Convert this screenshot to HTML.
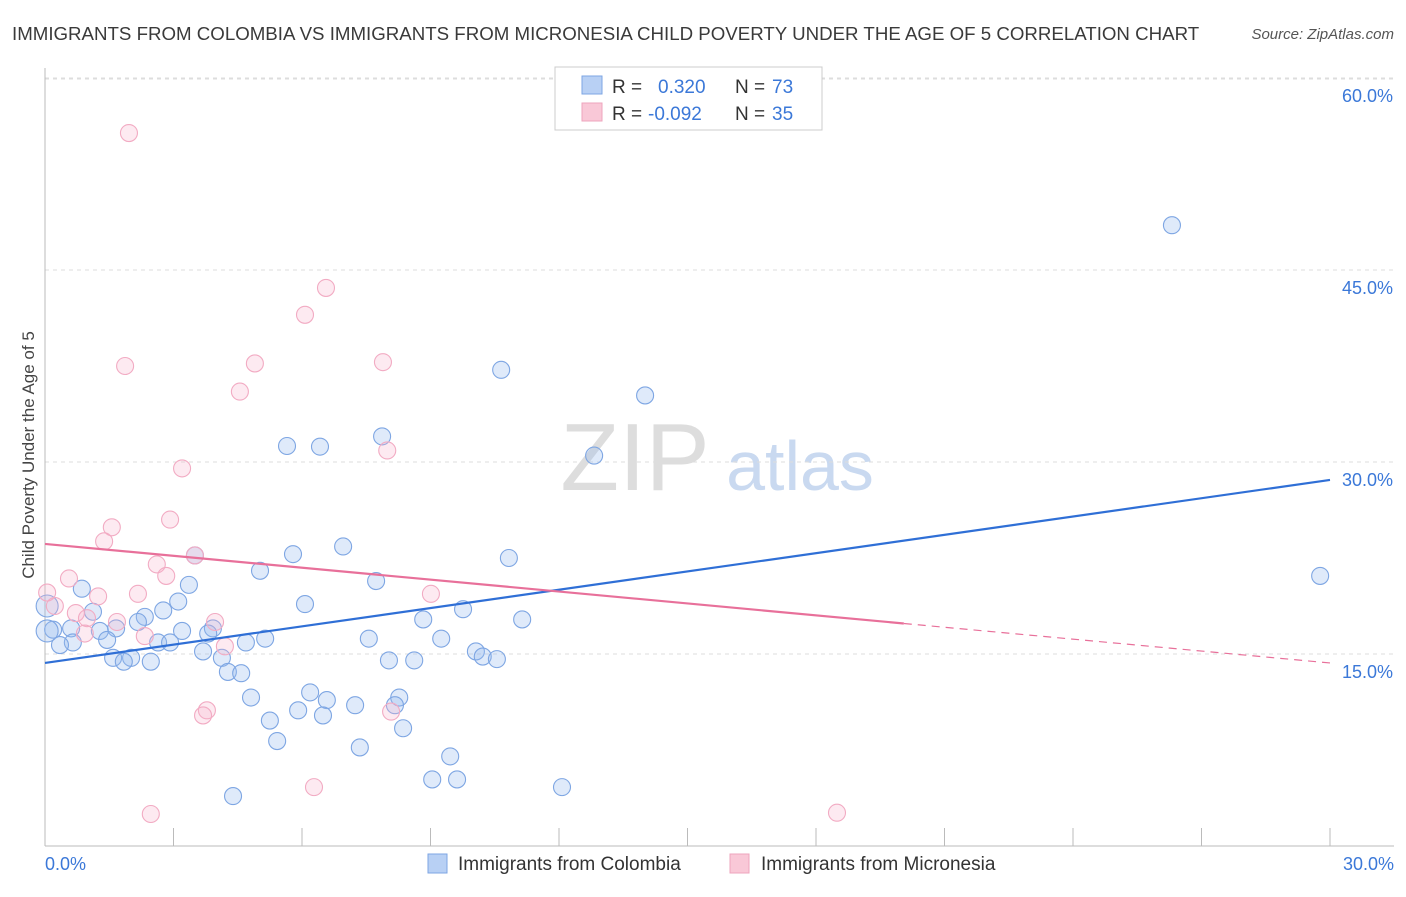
<!DOCTYPE html>
<html><head><meta charset="utf-8">
<style>
body{margin:0;background:#fff;font-family:"Liberation Sans",sans-serif;}
svg text{font-family:"Liberation Sans",sans-serif;}
</style></head>
<body>
<svg id="chart" width="1406" height="892" viewBox="0 0 1406 892" xmlns="http://www.w3.org/2000/svg">
<text x="12" y="40" font-size="18.7" fill="#3a3a3a">IMMIGRANTS FROM COLOMBIA VS IMMIGRANTS FROM MICRONESIA CHILD POVERTY UNDER THE AGE OF 5 CORRELATION CHART</text>
<text x="1394" y="39" font-size="15" fill="#555" font-style="italic" text-anchor="end">Source: ZipAtlas.com</text>
<text transform="translate(34,455) rotate(-90)" font-size="17" fill="#444" text-anchor="middle">Child Poverty Under the Age of 5</text>
<g>
<text x="635" y="490" font-size="96" fill="#ddd" font-family="Liberation Serif" text-anchor="middle">ZIP</text>
<text x="800" y="490" font-size="70" fill="#c9d9f0" text-anchor="middle">atlas</text>
</g>
<g id="grid"></g>
<g id="axes"></g>
<g id="points"></g>
<g id="lines"></g>
<g>
<rect x="555" y="67" width="267" height="63" fill="#fff" stroke="#ccc"/>
<rect x="582" y="76" width="20" height="18" fill="#b8d0f4" stroke="#7ea6e3"/>
<rect x="582" y="103" width="20" height="18" fill="#f9c8d7" stroke="#eea4bd"/>
<text x="612" y="93" font-size="19" fill="#333">R = </text><text x="658" y="93" font-size="19" fill="#3b78d8">0.320</text>
<text x="735" y="93" font-size="19" fill="#333">N = </text><text x="772" y="93" font-size="19" fill="#3b78d8">73</text>
<text x="612" y="120" font-size="19" fill="#333">R = </text><text x="648" y="120" font-size="19" fill="#3b78d8">-0.092</text>
<text x="735" y="120" font-size="19" fill="#333">N = </text><text x="772" y="120" font-size="19" fill="#3b78d8">35</text>
</g>
<g>
<rect x="428" y="854" width="19" height="19" fill="#b8d0f4" stroke="#7ea6e3"/>
<text x="458" y="870" font-size="19" fill="#333">Immigrants from Colombia</text>
<rect x="730" y="854" width="19" height="19" fill="#f9c8d7" stroke="#eea4bd"/>
<text x="761" y="870" font-size="19" fill="#333">Immigrants from Micronesia</text>
</g>
</svg>
<script>
const yTicks=[15,30,45,60];
const yTickLabels=["15.0%","30.0%","45.0%","60.0%"];
const xTickVals=[0,3,6,9,12,15,18,21,24,27,30];
const xEndLabels=["0.0%","30.0%"];
const colX=[26.31,29.77,10.65,14.01,7.87,12.82,5.65,6.42,6.96,10.83,5.79,3.50,5.02,7.73,3.36,0.86,3.11,6.07,9.76,2.76,1.12,2.33,2.17,11.14,8.83,1.66,0.61,0.19,1.28,3.20,3.92,3.81,9.25,7.56,5.14,4.69,1.45,0.65,0.35,2.64,2.92,3.69,10.06,10.22,10.55,4.13,1.59,2.01,1.84,2.47,8.03,8.62,4.27,4.58,6.19,4.81,8.27,6.58,8.17,7.24,5.91,6.49,5.25,8.36,5.42,7.35,9.46,9.04,9.62,12.07,4.39,0.05,0.05];
const colY=[48.5,21.1,37.2,35.2,32.0,30.5,31.25,31.2,23.4,22.5,22.8,22.7,21.5,20.7,20.4,20.1,19.1,18.9,18.5,18.4,18.3,17.9,17.5,17.7,17.7,17.0,17.0,16.9,16.8,16.8,17.0,16.6,16.2,16.2,16.2,15.9,16.1,15.9,15.7,15.9,15.9,15.2,15.2,14.8,14.6,14.7,14.7,14.7,14.4,14.4,14.5,14.5,13.6,13.5,12.0,11.6,11.6,11.4,11.0,11.0,10.6,10.2,9.8,9.2,8.2,7.7,7.0,5.2,5.2,4.6,3.9,18.75,16.8];
const micX=[1.96,6.56,6.07,1.87,4.90,7.89,4.55,7.99,3.20,2.92,1.56,1.38,3.50,2.61,2.83,0.56,0.05,2.17,1.24,9.01,0.23,0.72,0.98,1.68,3.97,2.33,0.93,4.20,3.78,3.69,8.08,6.28,2.47,18.49];
const micY=[55.7,43.6,41.5,37.5,37.7,37.8,35.5,30.9,29.5,25.5,24.9,23.8,22.7,22.0,21.1,20.9,19.8,19.7,19.5,19.7,18.75,18.2,17.8,17.5,17.5,16.4,16.6,15.6,10.6,10.2,10.5,4.6,2.5,2.6];
const colTrend=[14.3,28.6];
const micTrend=[23.6,14.3];
const micSolidEnd=20.05;

const NS="http://www.w3.org/2000/svg";
const X=v=>45+v*(1285/30);
const Y=v=>846-v*12.8;
function mk(tag,attrs,parent){const e=document.createElementNS(NS,tag);for(const k in attrs)e.setAttribute(k,attrs[k]);document.getElementById(parent).appendChild(e);return e;}

yTicks.forEach((t,i)=>{
 const g=mk('line',{x1:45,x2:1394,y1:Y(t),y2:Y(t),stroke:'#ddd','stroke-dasharray':'4,4'},'grid');
 
 
 const tx=mk('text',{x:1393,y:Y(t)+24,'font-size':18,fill:'#3b78d8','text-anchor':'end'},'axes');
 tx.textContent=yTickLabels[i];
 
 
});
const topG=mk('line',{x1:45,x2:1394,y1:79,y2:79,stroke:'#ddd','stroke-dasharray':'4,4'},'grid');


const ax=mk('line',{x1:45,x2:45,y1:68,y2:846,stroke:'#bbb'},'axes');


const bx=mk('line',{x1:45,x2:1394,y1:846,y2:846,stroke:'#bbb'},'axes');


xTickVals.forEach(t=>{
 const l=mk('line',{x1:X(t),x2:X(t),y1:828,y2:846,stroke:'#bbb'},'axes');
 
 
});
[[0,'start',45],[30,'end',1394]].forEach((d,i)=>{
 const t=mk('text',{x:d[2],y:870,'font-size':18,fill:'#3b78d8','text-anchor':d[1]},'axes');
 t.textContent=xEndLabels[i];
 
 
});
colX.forEach((v,i)=>{
 const r=i>=71?11:8.5;
 const c=mk('circle',{cx:X(v),cy:Y(colY[i]),r:r,fill:'rgba(150,185,240,0.3)',stroke:'#7ea6e3','stroke-width':1.1},'points');
 
 
});
micX.forEach((v,i)=>{
 const c=mk('circle',{cx:X(v),cy:Y(micY[i]),r:8.5,fill:'rgba(248,180,205,0.28)',stroke:'#f2abc3','stroke-width':1.1},'points');
 
 
});
const bl=mk('line',{x1:X(0),y1:Y(colTrend[0]),x2:X(30),y2:Y(colTrend[1]),stroke:'#2f6fd6','stroke-width':2.2},'lines');


const mAt=x=>micTrend[0]+(micTrend[1]-micTrend[0])*x/30;
const pl=mk('line',{x1:X(0),y1:Y(micTrend[0]),x2:X(micSolidEnd),y2:Y(mAt(micSolidEnd)),stroke:'#e8709a','stroke-width':2.2},'lines');


const pd=mk('line',{x1:X(micSolidEnd),y1:Y(mAt(micSolidEnd)),x2:X(30),y2:Y(micTrend[1]),stroke:'#e8709a','stroke-width':1.2,'stroke-dasharray':'8,6'},'lines');


</script>
</body></html>
